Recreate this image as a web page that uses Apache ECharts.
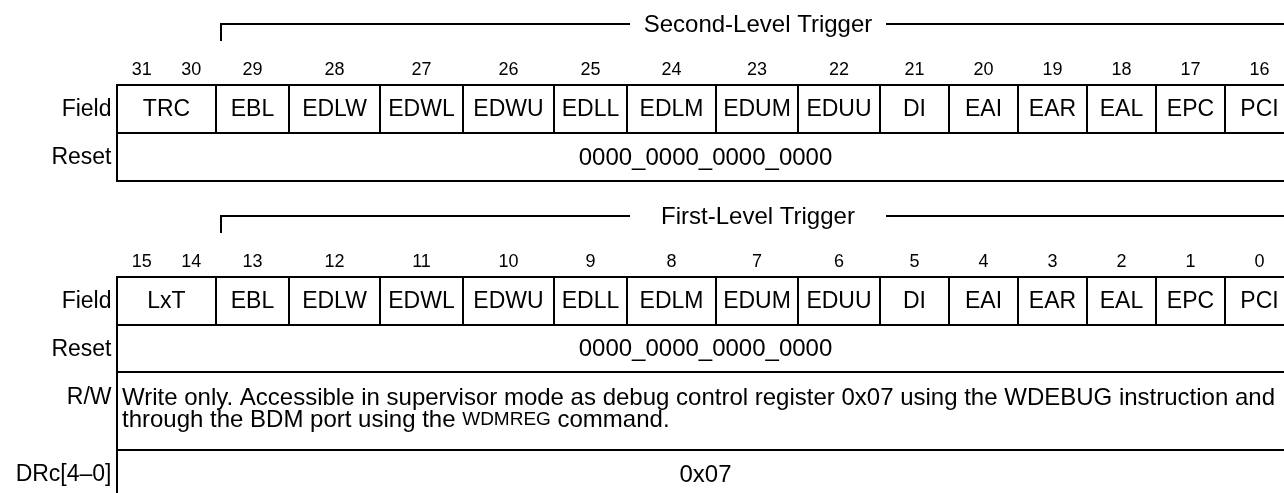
<!DOCTYPE html>
<html><head><meta charset="utf-8">
<script src="https://cdn.jsdelivr.net/npm/echarts@6/dist/echarts.min.js"></script>
<style>html,body{margin:0;padding:0;background:#fff}#c{width:1284px;height:493px}</style>
</head><body><div id="c"></div>
<script>
// ---- data ----
const blockTitles = ['Second-Level Trigger', 'First-Level Trigger'];
const secondFields = ['TRC','EBL','EDLW','EDWL','EDWU','EDLL','EDLM','EDUM','EDUU','DI','EAI','EAR','EAL','EPC','PCI'];
const firstFields  = ['LxT','EBL','EDLW','EDWL','EDWU','EDLL','EDLM','EDUM','EDUU','DI','EAI','EAR','EAL','EPC','PCI'];
const fieldBitCounts = [2,1,1,1,1,1,1,1,1,1,1,1,1,1,1];
const secondBitLabels = ['31','30','29','28','27','26','25','24','23','22','21','20','19','18','17','16'];
const firstBitLabels  = ['15','14','13','12','11','10','9','8','7','6','5','4','3','2','1','0'];
const fieldWidths = [99,73,91,83,91,73,89,82,82,69,69,69,69,69,69];
const resetValues = ['0000_0000_0000_0000','0000_0000_0000_0000'];
const rowNames = ['Field','Reset','R/W','DRc[4\u20130]'];
const rwLines = [
  '{n|Write only. Accessible in supervisor mode as debug control register 0x07 using the WDEBUG instruction and}',
  '{n|through the BDM port using the }{s|WDMREG}{n| command.}'
];
const drcValue = '0x07';

// ---- layout ----
const FONT = '"Liberation Sans", Arial, Helvetica, sans-serif';
const LABEL = 23, BODY = 24, BITS = 18, SMALL = 19, DY = 1;
const L = {
  left: 117, labelRight: 111.5, textLeft: 122,
  bracketX: 221, gapL: 630, gapR: 886, right: 1284,
  blocks: [
    {bracket: 24, bits: 69, top: 85, mid: 133, bot: 181},
    {bracket: 216, bits: 261, top: 277, mid: 325, bot: 372, rwBot: 450, end: 493, rwY: [397, 419], drcY: 474}
  ]
};
const edges = [L.left];
fieldWidths.forEach((w, i) => edges.push(edges[i] + w));
const bitCenters = [];
fieldBitCounts.forEach((n, i) => {
  for (let j = 0; j < n; j++) bitCenters.push(edges[i] + (j + 0.5) * fieldWidths[i] / n);
});
const fieldSets = [secondFields, firstFields];
const bitSets = [secondBitLabels, firstBitLabels];

function txt(p, text, size, align, extra) {
  return {type: 'text', style: Object.assign({
    x: p[0], y: p[1] + DY, text: text, fill: '#000', fontSize: size, fontFamily: FONT,
    align: align || 'center', verticalAlign: 'middle'
  }, extra || {})};
}
function ln(api, a, b, w) {
  const p = api.coord(a), q = api.coord(b);
  return {type: 'line', shape: {x1: p[0], y1: p[1], x2: q[0], y2: q[1]}, style: {stroke: '#000', lineWidth: w || 2}};
}

const fieldData = [], bitData = [];
[0, 1].forEach(b => {
  fieldSets[b].forEach((f, i) => fieldData.push([b, i]));
  bitSets[b].forEach((t, k) => bitData.push([b, k]));
});

const chart = echarts.init(document.getElementById('c'), null, {renderer: 'canvas'});
chart.setOption({
  animation: false,
  backgroundColor: '#fff',
  grid: {left: 0, right: 0, top: 0, bottom: 0, containLabel: false},
  xAxis: {type: 'value', min: 0, max: 1284, show: false},
  yAxis: {type: 'value', min: 0, max: 493, inverse: true, show: false},
  series: [
    { // fields
      type: 'custom', silent: true, data: fieldData,
      renderItem(params, api) {
        const b = api.value(0), i = api.value(1), B = L.blocks[b];
        const ch = [txt(api.coord([(edges[i] + edges[i + 1]) / 2, (B.top + B.mid) / 2]), fieldSets[b][i], LABEL)];
        if (i > 0) ch.push(ln(api, [edges[i], B.top], [edges[i], B.mid]));
        return {type: 'group', children: ch};
      }
    },
    { // bit numbers
      type: 'custom', silent: true, data: bitData,
      renderItem(params, api) {
        const b = api.value(0), k = api.value(1);
        return txt(api.coord([bitCenters[k], L.blocks[b].bits]), bitSets[b][k], BITS);
      }
    },
    { // frames, row labels, reset values, brackets, titles
      type: 'custom', silent: true, data: [[0], [1]],
      renderItem(params, api) {
        const b = api.value(0), B = L.blocks[b];
        const ch = [];
        const bottom = b === 1 ? B.end : B.bot;
        ch.push(ln(api, [L.left, B.top - 1], [L.left, bottom]));
        const hs = [B.top, B.mid, B.bot].concat(b === 1 ? [B.rwBot] : []);
        hs.forEach(y => ch.push(ln(api, [L.left - 1, y], [L.right, y])));
        // bracket
        ch.push(ln(api, [L.bracketX, B.bracket - 1], [L.bracketX, B.bracket + 17]));
        ch.push(ln(api, [L.bracketX - 1, B.bracket], [L.gapL, B.bracket]));
        ch.push(ln(api, [L.gapR, B.bracket], [L.right, B.bracket]));
        ch.push(txt(api.coord([(L.gapL + L.gapR) / 2, B.bracket]), blockTitles[b], BODY));
        // row labels
        ch.push(txt(api.coord([L.labelRight, (B.top + B.mid) / 2]), rowNames[0], LABEL, 'right'));
        ch.push(txt(api.coord([L.labelRight, (B.mid + B.bot) / 2]), rowNames[1], LABEL, 'right'));
        ch.push(txt(api.coord([(L.left + edges[edges.length - 1]) / 2, (B.mid + B.bot) / 2]), resetValues[b], BODY));
        if (b === 1) {
          ch.push(txt(api.coord([L.labelRight, B.rwY[0]]), rowNames[2], LABEL, 'right'));
          rwLines.forEach((t, j) => ch.push(txt(api.coord([L.textLeft, B.rwY[j]]), t, BODY, 'left', {
            rich: {n: {fontSize: BODY, fontFamily: FONT, fill: '#000'}, s: {fontSize: SMALL, fontFamily: FONT, fill: '#000'}}
          })));
          ch.push(txt(api.coord([L.labelRight, B.drcY]), rowNames[3], LABEL, 'right'));
          ch.push(txt(api.coord([(L.left + edges[edges.length - 1]) / 2, B.drcY]), drcValue, BODY));
        }
        return {type: 'group', children: ch};
      }
    }
  ]
});
</script></body></html>
